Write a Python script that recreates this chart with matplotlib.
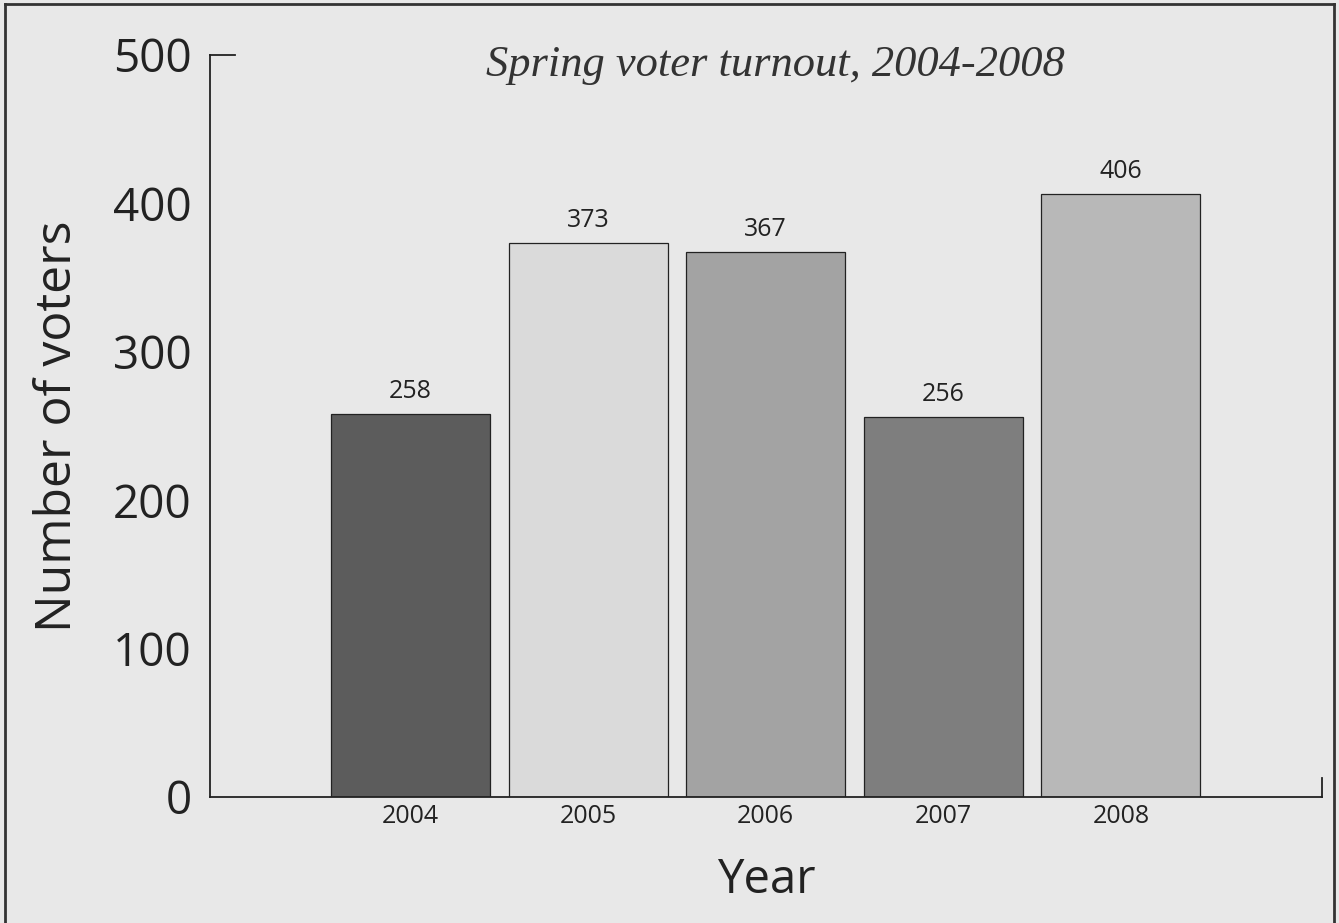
import matplotlib
matplotlib.use("Agg")
import matplotlib.pyplot as plt
from matplotlib.lines import Line2D

years = ["2004", "2005", "2006", "2007", "2008"]
voters = [258, 373, 367, 256, 406]
bar_colors = ["#5c5c5c", "#dadada", "#a3a3a3", "#7e7e7e", "#b8b8b8"]
y_ticks = [0, 100, 200, 300, 400, 500]
title = "Spring voter turnout, 2004-2008"

bg = "#e8e8e8"
fig = plt.figure(figsize=(13.39, 9.23), dpi=100, facecolor=bg)
ax = fig.add_axes([210/1339, 1-797/923, (1322-210)/1339, (797-55)/923])
ax.set_facecolor(bg)

x = list(range(len(years)))
ax.bar(x, voters, width=0.895, color=bar_colors, edgecolor="#222222", linewidth=0.9, zorder=2)
for xi, v in zip(x, voters):
    ax.text(xi, v + 7, str(v), ha="center", va="bottom", fontsize=18,
            family="Open Sans", color="#222222")

ax.set_xlim(-1.129, 5.132)
ax.set_ylim(0, 500)
ax.set_xticks(x)
ax.set_xticklabels(years, fontsize=18, family="Open Sans", color="#222222")
ax.set_yticks(y_ticks)
ax.set_yticklabels([str(t) for t in y_ticks], fontsize=33, family="Open Sans", color="#222222")
ax.tick_params(axis="y", length=0, pad=13)
ax.tick_params(axis="x", length=0, pad=5)

for s in ["top", "right"]:
    ax.spines[s].set_visible(False)
for s in ["left", "bottom"]:
    ax.spines[s].set_color("#222222")
    ax.spines[s].set_linewidth(1.3)

# cap tick at the top of y axis and end tick on x axis
ax.axhline(500, xmin=0, xmax=25/1112, color="#222222", lw=1.3, clip_on=False)
ax.axvline(ax.get_xlim()[1], ymin=0, ymax=19/742, color="#222222", lw=1.3, clip_on=False)

ax.set_ylabel("Number of voters", fontsize=36, family="Open Sans", color="#222222", labelpad=22)
ax.set_xlabel("Year", fontsize=34, family="Open Sans", color="#222222", labelpad=20)

ax.text(0.508, 0.986, title, transform=ax.transAxes, ha="center", va="center",
        fontsize=32, family="Liberation Serif", style="italic", color="#333333")

# outer frame
fig.add_artist(Line2D([5/1339, 5/1339], [0, 1-4/923], transform=fig.transFigure, color="#333333", lw=2))
fig.add_artist(Line2D([1334/1339, 1334/1339], [0, 1-4/923], transform=fig.transFigure, color="#333333", lw=2))
fig.add_artist(Line2D([5/1339, 1334/1339], [1-4/923, 1-4/923], transform=fig.transFigure, color="#333333", lw=2))

fig.savefig("out.png", dpi=100, facecolor=bg)
